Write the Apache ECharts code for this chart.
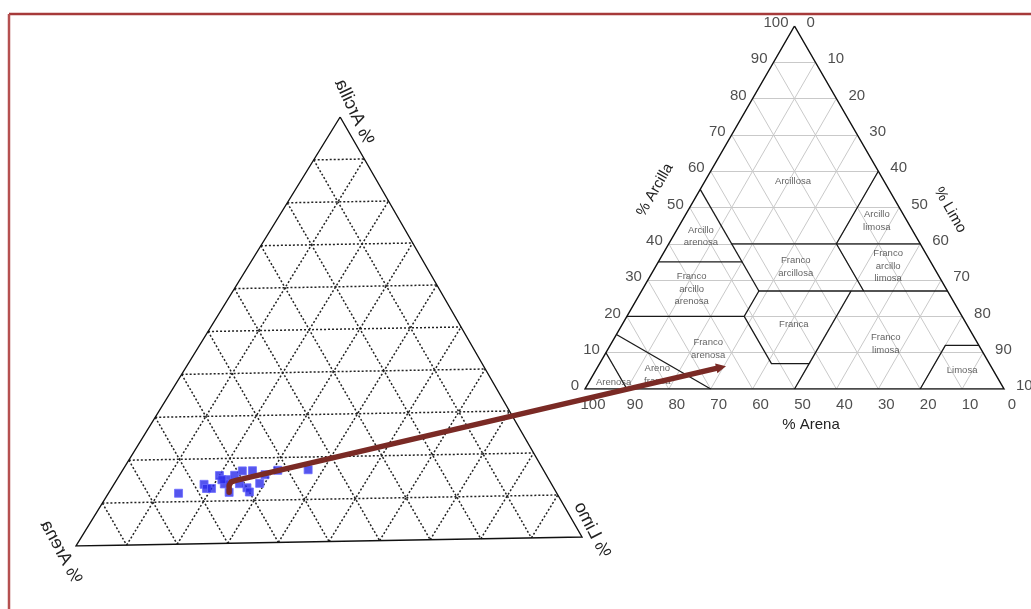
<!DOCTYPE html>
<html>
<head>
<meta charset="utf-8">
<script src="https://cdn.jsdelivr.net/npm/echarts@6/dist/echarts.min.js"></script>
<style>
  html, body { margin: 0; padding: 0; background: #fff; }
  #main { width: 1031px; height: 609px; }
</style>
</head>
<body>
<div id="main"></div>
<script>
// lineas de la rejilla cada 10 %
const rejilla = [10, 20, 30, 40, 50, 60, 70, 80, 90];
const marcas = [0, 10, 20, 30, 40, 50, 60, 70, 80, 90, 100];

// muestras del triangulo de la izquierda (%)
const arcilla = [12, 14, 13, 16, 15, 16, 14, 17, 17, 12, 13, 12, 14, 16, 17, 17, 14, 13, 15];
const limo    = [14, 18, 19, 20, 22, 23, 22, 24, 26, 24, 27, 28, 29, 29, 31, 37, 25, 20, 21];
const arena   = [74, 68, 68, 64, 63, 61, 64, 59, 57, 64, 60, 60, 57, 55, 52, 46, 61, 67, 64];

// limites de las clases texturales, puntos [arcilla, limo]
const limites = [
  [[55, 0], [27, 28]],
  [[40, 15], [40, 60]],
  [[60, 40], [40, 40], [27, 53]],
  [[35, 0], [35, 20]],
  [[27, 28], [27, 73]],
  [[20, 0], [20, 28], [27, 28]],
  [[20, 28], [7, 41], [7, 50], [0, 50]],
  [[27, 50], [7, 50]],
  [[12, 88], [12, 80], [0, 80]],
  [[15, 0], [0, 30]],
  [[10, 0], [0, 10]]
];

// nombres de clase y su posicion [arcilla, limo]
const clases = ['Arcillosa', 'Arcillo\narenosa', 'Arcillo\nlimosa', 'Franco\narcillosa',
  'Franco\narcillo\nlimosa', 'Franco\narcillo\narenosa', 'Franca', 'Franco\nlimosa',
  'Franco\narenosa', 'Limosa', 'Areno\nfranca', 'Arenosa'];
const clasesArcilla = [57.3, 42.1, 46.3, 33.6, 33.9, 27.5, 17.9, 12.4, 11.0, 5.0, 3.9, 1.9];
const clasesLimo    = [21.0, 6.6, 46.5, 33.5, 55.4, 11.7, 40.9, 65.6, 23.9, 87.5, 15.3, 5.9];

// flecha: de una muestra (izq) a la zona franco arenosa (der)
const flechaDesde = [12, 24];
const flechaHasta = [6.3, 30.5];

// vertices del triangulo izquierdo en coordenadas del grid (esta algo girado)
const vArcilla = [52.2, 100], vArena = [0, 0], vLimo = [100, 2.1];

function izq(cl, si) {
  const sa = 100 - cl - si;
  return [
    (cl * vArcilla[0] + si * vLimo[0] + sa * vArena[0]) / 100,
    (cl * vArcilla[1] + si * vLimo[1] + sa * vArena[1]) / 100
  ];
}
function der(cl, si) {
  return [si + cl / 2, cl];
}

const fuente = 'Liberation Sans, Arial, sans-serif';

function segmentos(fn) {
  const out = [];
  rejilla.forEach(k => {
    out.push({coords: [fn(k, 0), fn(k, 100 - k)]});
    out.push({coords: [fn(0, k), fn(100 - k, k)]});
    out.push({coords: [fn(100 - k, 0), fn(0, 100 - k)]});
  });
  return out;
}
function bordes(fn) {
  return [{coords: [fn(100, 0), fn(0, 0), fn(0, 100), fn(100, 0)]}];
}
function textos(gi, puntos, nombres, label) {
  return {
    type: 'scatter', xAxisIndex: gi, yAxisIndex: gi, silent: true,
    symbolSize: 1, itemStyle: {color: 'transparent'},
    label: Object.assign({show: true, position: 'inside', fontFamily: fuente, color: '#222'}, label),
    data: puntos.map((p, i) => ({value: p, label: {formatter: String(nombres[i])}}))
  };
}

const chart = echarts.init(document.getElementById('main'));

const option = {
  animation: false,
  backgroundColor: '#fff',
  grid: [
    {left: 76, top: 117, width: 506, height: 429},
    {left: 585, top: 26, width: 419, height: 363}
  ],
  xAxis: [0, 1].map(i => ({type: 'value', gridIndex: i, min: 0, max: 100, show: false})),
  yAxis: [0, 1].map(i => ({type: 'value', gridIndex: i, min: 0, max: 100, show: false})),
  series: [
    {
      type: 'lines', coordinateSystem: 'cartesian2d', xAxisIndex: 0, yAxisIndex: 0, silent: true,
      lineStyle: {color: '#222', width: 1.5, type: [2, 2], opacity: 1},
      data: segmentos(izq)
    },
    {
      type: 'lines', coordinateSystem: 'cartesian2d', xAxisIndex: 0, yAxisIndex: 0, silent: true,
      polyline: true, lineStyle: {color: '#111', width: 1.4, opacity: 1},
      data: bordes(izq)
    },
    {
      type: 'scatter', xAxisIndex: 0, yAxisIndex: 0, silent: true,
      symbol: 'rect', symbolSize: 8,
      itemStyle: {color: '#2a2ae8', borderColor: '#6b6bff', borderWidth: 1},
      data: arcilla.map((c, i) => izq(c, limo[i]))
    },
    {
      type: 'lines', coordinateSystem: 'cartesian2d', xAxisIndex: 1, yAxisIndex: 1, silent: true,
      lineStyle: {color: '#c9c9c9', width: 1, opacity: 1},
      data: segmentos(der)
    },
    {
      type: 'lines', coordinateSystem: 'cartesian2d', xAxisIndex: 1, yAxisIndex: 1, silent: true,
      polyline: true, lineStyle: {color: '#1a1a1a', width: 1.3, opacity: 1},
      data: limites.map(l => ({coords: l.map(p => der(p[0], p[1]))}))
    },
    {
      type: 'lines', coordinateSystem: 'cartesian2d', xAxisIndex: 1, yAxisIndex: 1, silent: true,
      polyline: true, lineStyle: {color: '#111', width: 1.5, opacity: 1},
      data: bordes(der)
    },
    textos(1, marcas.map(k => der(k, 0)), marcas,
      {align: 'right', verticalAlign: 'middle', offset: [-6, -3], fontSize: 15}),
    textos(1, marcas.map(k => der(100 - k, k)), marcas,
      {align: 'left', verticalAlign: 'middle', offset: [12, -3], fontSize: 15}),
    textos(1, marcas.map(k => der(0, 100 - k)), marcas,
      {align: 'center', verticalAlign: 'middle', offset: [8, 16], fontSize: 15}),
    textos(1, clasesArcilla.map((c, i) => der(c, clasesLimo[i])), clases,
      {align: 'center', verticalAlign: 'middle', fontSize: 9.5, lineHeight: 12.5, color: '#3a3a3a'})
  ]
};

chart.setOption(option);

// flecha y rotulos
const p0 = chart.convertToPixel({gridIndex: 0}, izq(flechaDesde[0], flechaDesde[1]));
const p1 = chart.convertToPixel({gridIndex: 1}, der(flechaHasta[0], flechaHasta[1]));
const codo = [p0[0] + 7, p0[1] - 12];
const dx = p1[0] - codo[0], dy = p1[1] - codo[1];
const len = Math.sqrt(dx * dx + dy * dy);
const ux = dx / len, uy = dy / len;
const punta = 10, ancho = 5;
const base = [p1[0] - ux * punta, p1[1] - uy * punta];
const colorFlecha = '#7a2a25';

// los rotulos del triangulo izquierdo estan girados y en espejo
function rotuloEspejo(texto, x, y, grados) {
  return {
    type: 'text', x: x, y: y, rotation: grados * Math.PI / 180, scaleY: -1,
    style: {text: texto, font: '18px ' + fuente, fill: '#222', textAlign: 'center', textVerticalAlign: 'middle'}
  };
}

chart.setOption({
  graphic: [
    {type: 'line', shape: {x1: 9, y1: 14, x2: 1031, y2: 14}, style: {stroke: '#a63a3a', lineWidth: 2.5}},
    {type: 'line', shape: {x1: 9, y1: 14, x2: 9, y2: 609}, style: {stroke: '#b55050', lineWidth: 2.5}},
    {
      type: 'polyline', z: 100,
      shape: {points: [p0, [p0[0], p0[1] - 7], [p0[0] + 2, p0[1] - 10.5], codo, base], smooth: 0},
      style: {stroke: colorFlecha, lineWidth: 5.5, fill: null, lineJoin: 'round', lineCap: 'round'}
    },
    {
      type: 'polygon', z: 100,
      shape: {points: [p1, [base[0] - uy * ancho, base[1] + ux * ancho], [base[0] + uy * ancho, base[1] - ux * ancho]]},
      style: {fill: colorFlecha}
    },
    rotuloEspejo('% Arcilla', 354, 112, 115),
    rotuloEspejo('% Arena', 61, 552, 118),
    rotuloEspejo('% Limo', 592, 530, 117),
    {type: 'text', x: 655, y: 190, rotation: Math.PI / 3,
      style: {text: '% Arcilla', font: '15px ' + fuente, fill: '#222', textAlign: 'center', textVerticalAlign: 'middle'}},
    {type: 'text', x: 950, y: 210, rotation: -Math.PI / 3,
      style: {text: '% Limo', font: '15px ' + fuente, fill: '#222', textAlign: 'center', textVerticalAlign: 'middle'}},
    {type: 'text', x: 811, y: 425,
      style: {text: '% Arena', font: '15px ' + fuente, fill: '#222', textAlign: 'center', textVerticalAlign: 'middle'}}
  ]
});
</script>
</body>
</html>
